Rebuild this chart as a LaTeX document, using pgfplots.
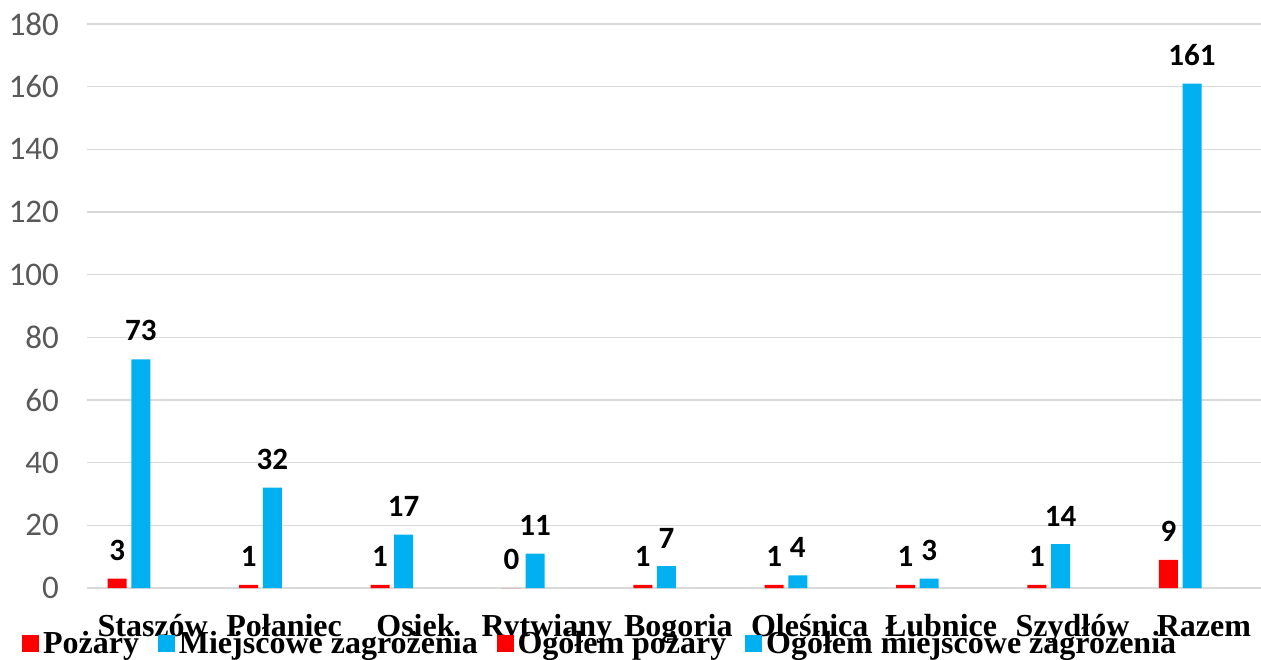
\documentclass[border=0pt]{standalone}
\usepackage{fontspec}
\setmainfont{Liberation Serif}
\newfontfamily\calibri{Carlito}
\usepackage{pgfplots}
\pgfplotsset{compat=1.18}
\definecolor{pred}{HTML}{FF0000}
\definecolor{pblue}{HTML}{00B0F0}
\definecolor{gridc}{HTML}{D9D9D9}
\definecolor{tickc}{HTML}{595959}

\pgfplotstableread{
x pozary miejscowe
0 3 73
1 1 32
2 1 17
3 0 11
4 1 7
5 1 4
6 1 3
7 1 14
8 9 161
}\gminy

\begin{document}
\begin{tikzpicture}
\begin{axis}[
    scale only axis,
    width=587pt, height=282pt,
    xmin=-0.5, xmax=8.435,
    ymin=0, ymax=180,
    ytick={0,20,...,180},
    xtick={0,...,8},
    xticklabels={Staszów,Połaniec,Osiek,Rytwiany,Bogoria,Oleśnica,Łubnice,Szydłów,Razem},
    /pgf/number format/assume math mode=true,
    axis line style={draw=none},
    tick style={draw=none},
    ymajorgrids,
    grid style={gridc, line width=0.8pt},
    yticklabel style={font=\fontsize{16.5}{18}\selectfont\calibri, text=tickc, xshift=-10.5pt},
    xticklabel style={font=\fontsize{16}{18}\selectfont\bfseries, anchor=base, yshift=-20pt},
    ybar, bar width=0.1446,
    nodes near coords,
    every node near coord/.append style={font=\fontsize{15.5}{18}\selectfont\bfseries\calibri, text=black, yshift=5.5pt},
    clip=false,
    legend columns=-1,
    legend style={draw=none, fill=none, at={(0.438,-0.099)}, anchor=center,
        font=\fontsize{16}{18}\selectfont\bfseries,
        /tikz/every even column/.append style={column sep=7.5pt}},
]
    \addplot[fill=pred, draw=none, bar shift=-0.27, forget plot] table[x=x, y=pozary] {\gminy};
    \addplot[fill=pblue, draw=none, bar shift=-0.09, forget plot] table[x=x, y=miejscowe] {\gminy};

    \addlegendimage{legend image code/.code={\fill[pred] (0pt,-4pt) rectangle (8pt,4pt);}}
    \addlegendentry{Pożary}
    \addlegendimage{legend image code/.code={\fill[pblue] (0pt,-4pt) rectangle (8pt,4pt);}}
    \addlegendentry{Miejscowe zagrożenia}
    \addlegendimage{legend image code/.code={\fill[pred] (0pt,-4pt) rectangle (8pt,4pt);}}
    \addlegendentry{Ogółem pożary}
    \addlegendimage{legend image code/.code={\fill[pblue] (0pt,-4pt) rectangle (8pt,4pt);}}
    \addlegendentry{Ogółem miejscowe zagrożenia}
\end{axis}
\pgfresetboundingbox
\path (-43.5pt,-35.5pt) rectangle (587pt,294pt);
\end{tikzpicture}
\end{document}
